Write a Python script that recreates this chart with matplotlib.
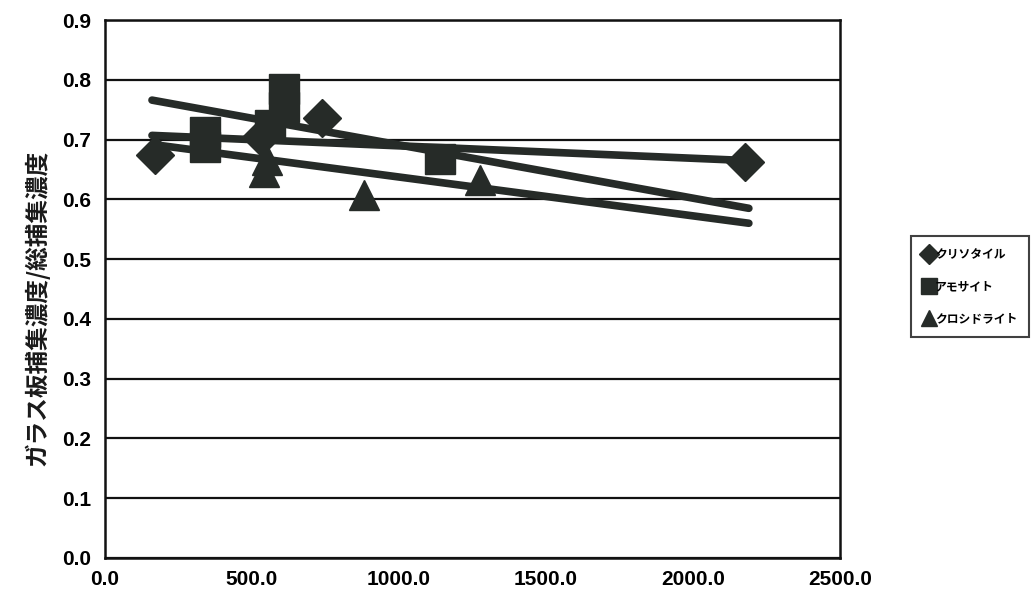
import matplotlib
matplotlib.use("Agg")
import matplotlib.pyplot as plt
from matplotlib.lines import Line2D
from matplotlib import font_manager

plt.rcParams['font.family'] = ['Noto Sans CJK JP', 'DejaVu Sans']

# Data
series_names = ['クリソタイル', 'アモサイト', 'クロシドライト']
chrys_x = [170, 530, 738, 2177]
chrys_y = [0.674, 0.705, 0.736, 0.662]
amos_x = [340, 340, 560, 610, 610, 1140]
amos_y = [0.712, 0.688, 0.725, 0.785, 0.755, 0.668]
croc_x = [540, 550, 880, 1275]
croc_y = [0.645, 0.665, 0.607, 0.632]

# Trend lines (start/end values)
trendA_x = [160, 2190]
trendA_y = [0.766, 0.585]
trendB_x = [160, 2177]
trendB_y = [0.707, 0.665]
trendC_x = [190, 2190]
trendC_y = [0.690, 0.560]

xticks = [0, 500, 1000, 1500, 2000, 2500]
yticks = [0.0, 0.1, 0.2, 0.3, 0.4, 0.5, 0.6, 0.7, 0.8, 0.9]
ylabel = 'ガラス板捕集濃度/総捕集濃度'

names = {f.name for f in font_manager.fontManager.ttflist}
num_family = ['Liberation Sans Narrow'] if 'Liberation Sans Narrow' in names else ['Liberation Sans']

col = '#262b28'
fig = plt.figure(figsize=(10.35, 6.16), dpi=100)
ax = fig.add_axes([0.1014, 0.0942, 0.7102, 0.8733])

for tx, ty in [(trendA_x, trendA_y), (trendB_x, trendB_y), (trendC_x, trendC_y)]:
    ax.plot(tx, ty, color=col, lw=5.5, solid_capstyle='round', zorder=3)

ax.plot(chrys_x, chrys_y, 'D', color=col, ms=19, ls='none', zorder=4)
ax.plot(amos_x, amos_y, 's', color=col, ms=21, ls='none', zorder=4)
ax.plot(croc_x, croc_y, '^', color=col, ms=22, ls='none', zorder=4)

ax.set_xlim(0, 2500)
ax.set_ylim(0, 0.9)
ax.set_xticks(xticks)
ax.set_xticklabels([f'{v:.1f}' for v in xticks], fontsize=15, fontweight='bold', family=num_family)
ax.set_yticks(yticks)
ax.set_yticklabels([f'{v:.1f}' for v in yticks], fontsize=15, fontweight='bold', family=num_family)
ax.yaxis.grid(True, color='#111111', lw=1.6)
ax.set_axisbelow(True)
for s in ax.spines.values():
    s.set_linewidth(1.8)
    s.set_color('#111111')
ax.tick_params(axis='x', length=0, pad=9)
ax.tick_params(axis='y', length=0, pad=10)
fig.text(0.036, 0.50, ylabel, rotation=90, fontsize=17, fontweight='bold',
         ha='center', va='center', color='#1a1a1a')

handles = [Line2D([], [], marker='D', color=col, ls='none', ms=10),
           Line2D([], [], marker='s', color=col, ls='none', ms=11),
           Line2D([], [], marker='^', color=col, ls='none', ms=12)]
leg = fig.legend(handles, series_names, loc='center left', bbox_to_anchor=(0.880, 0.535),
                 frameon=True, fancybox=False, edgecolor='#111111',
                 prop={'weight': 'bold', 'size': 8.5}, handletextpad=0.05, handlelength=1.0,
                 borderpad=1.0, labelspacing=1.6, borderaxespad=0)
leg.get_frame().set_linewidth(1.5)

fig.savefig('out.png', dpi=100)
